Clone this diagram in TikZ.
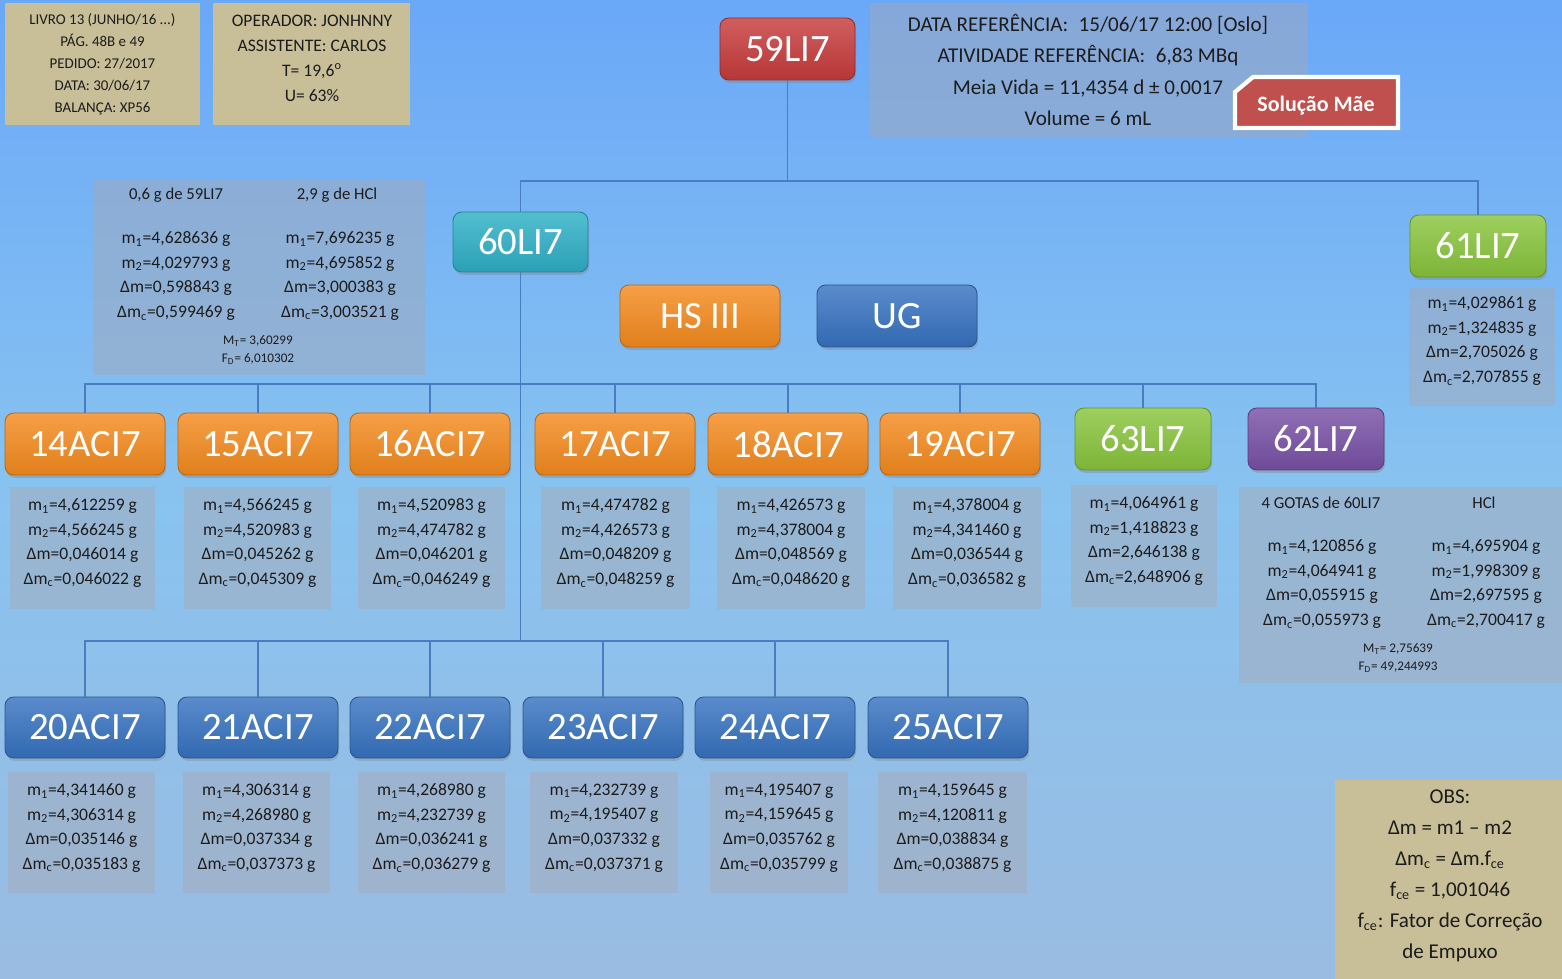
\documentclass[tikz,border=0pt]{standalone}
\usepackage{fontspec}
\setmainfont{Carlito}
\usetikzlibrary{fit,shadows,calc}

\definecolor{bgtop}{HTML}{6AA8F8}
\definecolor{bgmid}{HTML}{88C3F0}
\definecolor{bgbot}{HTML}{9ABCE2}
\definecolor{cred}{HTML}{C63B3B}
\definecolor{cteal}{HTML}{2EAFC6}
\definecolor{cgreen}{HTML}{88C43C}
\definecolor{corange}{HTML}{F48A1E}
\definecolor{cblue}{HTML}{3672C0}
\definecolor{cpurple}{HTML}{7850A6}
\definecolor{ctan}{HTML}{C8BE98}
\definecolor{linkc}{HTML}{4A7CC0}
\definecolor{boxgray}{HTML}{A8A8B2}
\definecolor{maered}{HTML}{C0504D}
\definecolor{ink}{HTML}{1C1C1C}

% mass notation
\newcommand\mOne{m\textsubscript{1}}
\newcommand\mTwo{m\textsubscript{2}}
\newcommand\dM{Δm}
\newcommand\dMc{Δm\textsubscript{c}}
\newcommand\massrows[4]{\mOne=#1 g\\\mTwo=#2 g\\\dM=#3 g\\\dMc=#4 g}

% a box given by two corners (in px), text centred
\newcommand\pbox[7]{\node[#2, minimum width={(#5-#3)*0.02cm}, minimum height={(#6-#4)*0.02cm}]
  (#1) at ({(#3+#5)/2},{(#4+#6)/2}) {#7};}
% a translucent data box with its text centred at a given height
\newcommand\dbox[7]{%
  \node[databox, fit={(#2,#3) (#4,#5)}] (#1) {};
  \node[datatext] (#1t) at ({(#2+#4)/2},#6) {#7};}

\begin{document}
\begin{tikzpicture}[x=0.02cm,y=-0.02cm,
  tag/.style={rounded corners=5pt, draw=#1!75!black, line width=0.5pt,
    top color=#1!82!white, bottom color=#1!92!black, text=white,
    font=\fontsize{22}{26}\selectfont, inner sep=0pt, outer sep=0pt,
    drop shadow={opacity=0.35, shadow xshift=0.6pt, shadow yshift=-1.6pt}},
  databox/.style={fill=boxgray, fill opacity=0.45, draw=none,
    inner sep=0pt, outer sep=0pt},
  datatext/.style={text=ink, align=center, inner sep=0pt,
    font=\fontsize{10}{14}\selectfont},
  smalltext/.style={text=ink, align=center, inner sep=0pt,
    font=\fontsize{7.5}{10}\selectfont},
  headtext/.style={text=ink, align=center, inner sep=0pt,
    font=\fontsize{9.5}{12}\selectfont},
  tanbox/.style={fill=ctan, draw=none, inner sep=0pt, outer sep=0pt,
    text=ink, align=center},
  link/.style={draw=linkc, line width=1.1pt}
]
% background
\shade[top color=bgtop, bottom color=bgbot, middle color=bgmid] (0,0) rectangle (1562,979);
\useasboundingbox (0,0) rectangle (1562,979);

% notes in the top-left corner
\pbox{livro}{tanbox, font=\fontsize{8.5}{12.5}\selectfont}{5}{3}{200}{125}{LIVRO 13 (JUNHO/16 ...)\\PÁG. 48B e 49\\PEDIDO: 27/2017\\DATA: 30/06/17\\BALANÇA: XP56}
\pbox{oper}{tanbox}{213}{3}{410}{125}{}
\node[text=ink, align=center, inner sep=0pt, font=\fontsize{10}{14.2}\selectfont] (opert) at (312,58) {OPERADOR: JONHNNY\\ASSISTENTE: CARLOS\\T= 19,6\textsuperscript{o}\\U= 63\%};

% reference data of the mother solution
\node[databox, fit={(870,3) (1308,137)}] (ref) {};
\node[text=ink, align=center, inner sep=0pt, font=\fontsize{12}{18}\selectfont] (reft) at (1088,70) {DATA REFERÊNCIA:\enspace 15/06/17 12:00 [Oslo]\\ATIVIDADE REFERÊNCIA:\enspace 6,83 MBq\\Meia Vida = 11,4354 d ± 0,0017\\Volume = 6 mL};
\draw[white, line width=2.4pt, fill=maered,
  drop shadow={opacity=0.35, shadow xshift=0.8pt, shadow yshift=-1.4pt}]
  (1235,92) -- (1253,77) -- (1398,77) -- (1398,128) -- (1235,128) -- cycle;
\node[text=white, inner sep=0pt, font=\fontsize{12.5}{14}\bfseries] (mae) at (1316,106) {Solução Mãe};

% data boxes
\node[databox, fit={(93,180) (425,375)}] (d60) {};
\node[headtext] (d60ha) at (176,195) {0,6 g de 59LI7};
\node[headtext] (d60hb) at (337,195) {2,9 g de HCl};
\node[datatext] (d60a) at (176,276) {\massrows{4,628636}{4,029793}{0,598843}{0,599469}};
\node[datatext] (d60b) at (340,276) {\massrows{7,696235}{4,695852}{3,000383}{3,003521}};
\node[smalltext] (d60c) at (258,350) {M\textsubscript{T}= 3,60299\\F\textsubscript{D}= 6,010302};

\dbox{d61}{1409}{287}{1555}{406}{341}{\massrows{4,029861}{1,324835}{2,705026}{2,707855}}

\dbox{d14}{10}{487}{155}{609}{543}{\massrows{4,612259}{4,566245}{0,046014}{0,046022}}
\dbox{d15}{184}{487}{331}{609}{543}{\massrows{4,566245}{4,520983}{0,045262}{0,045309}}
\dbox{d16}{358}{487}{505}{609}{543}{\massrows{4,520983}{4,474782}{0,046201}{0,046249}}
\dbox{d17}{541}{487}{690}{609}{543}{\massrows{4,474782}{4,426573}{0,048209}{0,048259}}
\dbox{d18}{717}{487}{865}{609}{543}{\massrows{4,426573}{4,378004}{0,048569}{0,048620}}
\dbox{d19}{893}{487}{1041}{609}{543}{\massrows{4,378004}{4,341460}{0,036544}{0,036582}}
\dbox{d63}{1071}{485}{1217}{607}{541}{\massrows{4,064961}{1,418823}{2,646138}{2,648906}}

\node[databox, fit={(1239,487) (1562,683)}] (d62) {};
\node[headtext] (d62ha) at (1321,503) {4 GOTAS de 60LI7};
\node[headtext] (d62hb) at (1484,503) {HCl};
\node[datatext] (d62a) at (1322,584) {\massrows{4,120856}{4,064941}{0,055915}{0,055973}};
\node[datatext] (d62b) at (1486,584) {\massrows{4,695904}{1,998309}{2,697595}{2,700417}};
\node[smalltext] (d62c) at (1398,658) {M\textsubscript{T}= 2,75639\\F\textsubscript{D}= 49,244993};

\dbox{d20}{8}{772}{155}{893}{828}{\massrows{4,341460}{4,306314}{0,035146}{0,035183}}
\dbox{d21}{183}{772}{330}{893}{828}{\massrows{4,306314}{4,268980}{0,037334}{0,037373}}
\dbox{d22}{358}{772}{505}{893}{828}{\massrows{4,268980}{4,232739}{0,036241}{0,036279}}
\dbox{d23}{530}{772}{678}{893}{828}{\massrows{4,232739}{4,195407}{0,037332}{0,037371}}
\dbox{d24}{710}{772}{848}{893}{828}{\massrows{4,195407}{4,159645}{0,035762}{0,035799}}
\dbox{d25}{878}{772}{1027}{893}{828}{\massrows{4,159645}{4,120811}{0,038834}{0,038875}}

% note on the formulas
\pbox{obs}{tanbox}{1335}{780}{1562}{979}{}
\node[text=ink, align=center, inner sep=0pt, font=\fontsize{12}{17.6}\selectfont] (obst) at (1450,876)
  {OBS:\\Δm = m1 -- m2\\Δm\textsubscript{c} = Δm.f\textsubscript{ce}\\f\textsubscript{ce} = 1,001046\\f\textsubscript{ce}: Fator de Correção\\de Empuxo};

% solution nodes
\pbox{n59}{tag=cred}{720}{18}{855}{80}{59LI7}
\pbox{n60}{tag=cteal}{453}{212}{588}{272}{60LI7}
\pbox{n61}{tag=cgreen}{1410}{215}{1546}{277}{61LI7}
\pbox{hs}{tag=corange}{620}{285}{780}{347}{HS III}
\pbox{ug}{tag=cblue}{817}{285}{977}{347}{UG}

\pbox{n14}{tag=corange}{5}{413}{165}{475}{14ACI7}
\pbox{n15}{tag=corange}{178}{413}{338}{475}{15ACI7}
\pbox{n16}{tag=corange}{350}{413}{510}{475}{16ACI7}
\pbox{n17}{tag=corange}{535}{413}{695}{475}{17ACI7}
\pbox{n18}{tag=corange}{708}{413}{868}{475}{18ACI7}
\pbox{n19}{tag=corange}{880}{413}{1040}{475}{19ACI7}
\pbox{n63}{tag=cgreen}{1075}{408}{1211}{470}{63LI7}
\pbox{n62}{tag=cpurple}{1248}{408}{1384}{470}{62LI7}

\pbox{n20}{tag=cblue}{5}{697}{165}{758}{20ACI7}
\pbox{n21}{tag=cblue}{178}{697}{338}{758}{21ACI7}
\pbox{n22}{tag=cblue}{350}{697}{510}{758}{22ACI7}
\pbox{n23}{tag=cblue}{523}{697}{683}{758}{23ACI7}
\pbox{n24}{tag=cblue}{695}{697}{855}{758}{24ACI7}
\pbox{n25}{tag=cblue}{868}{697}{1028}{758}{25ACI7}

% connectors
\coordinate (bus0) at (n59.south |- 0,181);
\coordinate (bus1) at (n60.south |- 0,384);
\coordinate (bus2) at (n60.south |- 0,641);
\draw[link] (n59.south) -- (bus0);
\draw[link] (n60.north) |- (bus0);
\draw[link] (n61.north) |- (bus0);
\draw[link] (n60.south) -- (bus2);
\foreach \n in {n14,n15,n16,n17,n18,n19,n63,n62}
  \draw[link] (\n.north) |- (bus1);
\foreach \n in {n20,n21,n22,n23,n24,n25}
  \draw[link] (\n.north) |- (bus2);
\end{tikzpicture}
\end{document}
